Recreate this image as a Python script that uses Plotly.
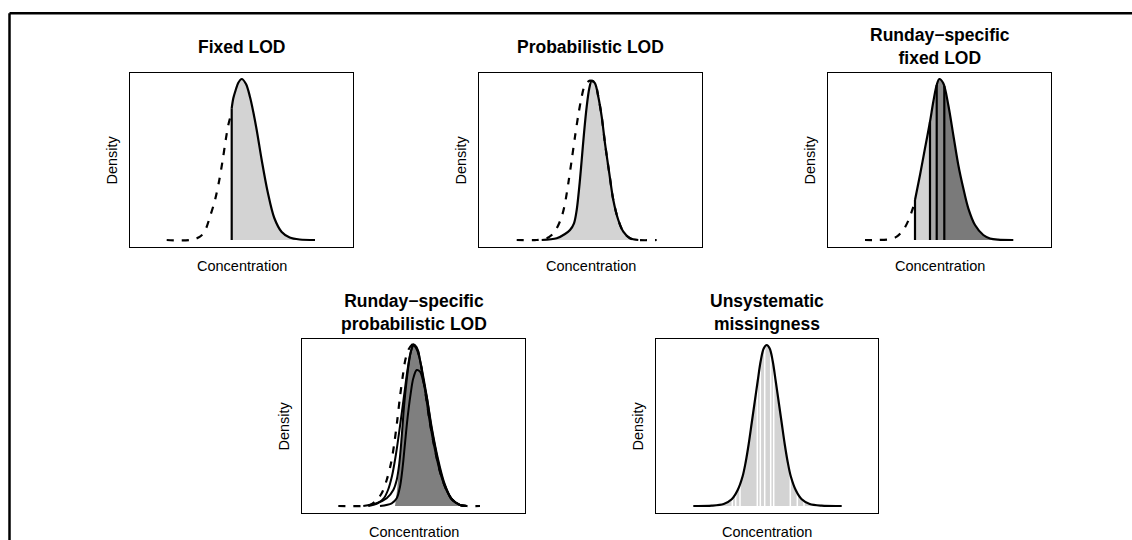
import plotly.graph_objects as go

# ---------------- data (arbitrary concentration / density units) ----------------
titles = ["Fixed LOD", "Probabilistic LOD", "Runday−specific<br>fixed LOD",
          "Runday−specific<br>probabilistic LOD", "Unsystematic<br>missingness"]
x_label = "Concentration"
y_label = "Density"

# Panel 1 : fixed LOD
p1_lod = 101.7
p1_obs_x = [101.7, 103.3, 105.7, 108.3, 111.7, 116, 120, 123.3, 126.7, 131.7, 137.7, 144.3,
            151.7, 159.7, 169.7, 185]
p1_obs_y = [131.7, 141.7, 150, 157.3, 161, 156, 143, 128, 110, 80, 48, 22,
            8, 2.5, 0.5, 0]
p1_cens_x = [36.7, 60, 70, 75, 80, 85, 89.3, 92.7, 95.7, 98.3, 100]
p1_cens_y = [0, 0, 3.3, 9.3, 23.3, 40, 60, 80, 100, 115, 121.7]

# Panel 2 : probabilistic LOD
p2_obs_x = [62.7, 77.7, 86, 91, 95, 97.7, 100.3, 102.7, 105, 107.7, 110.3, 112.7, 116, 119.3,
            122.7, 126, 130.3, 134.3, 139.3, 144.3, 151, 159.3]
p2_obs_y = [0, 1.7, 6, 10, 16.7, 30, 53.3, 80, 106.7, 133.3, 151.7, 159.3, 156.7, 143.3,
            123.3, 96.7, 66.7, 40, 20, 8.3, 1.7, 0]
p2_full_x = [37.7, 57.7, 67.7, 72.7, 77.7, 82.7, 86, 89.3, 92.7, 96, 99.3, 102.7, 106, 111,
             116, 119.3, 122.7, 126, 130.3, 134.3, 139.3, 144.3, 151, 159.3, 177.7]
p2_full_y = [0, 0, 1.7, 5, 11.7, 23.3, 36.7, 56.7, 80, 103.3, 125, 143.3, 155, 159.3,
             156.7, 143.3, 123.3, 96.7, 66.7, 40, 20, 8.3, 1.7, 0, 0]

# Panel 3 : runday-specific fixed LOD
p3_lods = [87, 102, 108.7, 116.3]
p3_lod_heights = [40, 118.3, 155, 154]
p3_obs_x = [87, 92, 97, 102, 105.3, 108.7, 111.3, 115.3, 120.3, 125.3, 130.3, 135.3, 140.3,
            147, 155.3, 162, 170, 185.3]
p3_obs_y = [40, 65, 91.7, 118.3, 138.3, 155, 161, 156.7, 135, 105, 75, 51.7, 31.7,
            15, 5, 1.5, 0.3, 0]
p3_cens_x = [37, 48.7, 62, 68.7, 75.3, 80.3, 83.7, 86]
p3_cens_y = [0, 0, 0.7, 3.3, 10, 19.3, 28.3, 35]
p3_fill_colors = ["#D3D3D3", "#A9A9A9", "#8C8C8C", "#7A7A7A"]

# Panel 4 : runday-specific probabilistic LOD
p4_full_x = [36.3, 60, 68, 74.7, 79.7, 84.7, 89, 92.3, 95.3, 98, 100.7, 103.3, 106.3, 109.7, 111.3,
             114.7, 118, 123, 128, 133, 138, 143, 149.7, 158, 164.7, 178]
p4_full_y = [0, 0, 1, 6, 12.7, 26, 42.7, 62.7, 86, 109.3, 129.3, 146, 156, 161, 161.7,
             158.7, 146, 116, 82.7, 56, 34.3, 19.3, 6.7, 1, 0, 0]
p4_a_x = [61.3, 74.7, 84.7, 91.3, 94.7, 97.3, 99.7, 102, 104.7, 107.3, 109.7, 111.3,
          114.7, 118, 123, 128, 133, 138, 143, 149.7, 158, 164.7]
p4_a_y = [0, 2.7, 7.7, 16, 26, 42.7, 69.3, 99.3, 126, 146, 157.7, 161.7,
          158.7, 146, 116, 82.7, 56, 34.3, 19.3, 6.7, 1, 0]
p4_b_x = [78, 89.7, 94.7, 98, 100.7, 103, 105.7, 108.7, 111.3, 114.7, 118, 121.3, 124.7,
          128.7, 133, 138, 143, 149.7, 158, 164.7]
p4_b_y = [0, 2.7, 7.7, 19.3, 39.3, 62.7, 89.3, 112.7, 127.7, 136, 134.3, 124.3, 109.3,
          82.7, 59.3, 36, 20, 7, 1, 0]
p4_c_x = [66.3, 76, 82, 86, 90, 94, 98, 102, 105.5, 108.5, 111.5, 114, 117, 120, 124.7,
          130, 136, 142, 149, 158, 164.7]
p4_c_y = [0, 3, 8, 16, 30, 52, 80, 110, 136, 153, 160.5, 158, 150, 136, 110,
          77, 47, 24, 8, 1, 0]
p4_fill_start_x = [93, 95.3]
p4_fill_start_y = [0, 18]

# Panel 5 : unsystematic missingness
p5_x = [37.3, 55.7, 67.7, 75.7, 81.7, 86.7, 89.7, 92.7, 95.7, 98.7, 101.7, 104.7, 107.7, 110.7,
        113.7, 116.7, 119.7, 122.7, 125.7, 128.7, 131.7, 134.7, 139.7, 145.7, 153.7, 165.7, 185.7]
p5_y = [0, 0.3, 2, 6.7, 16, 30, 44, 62, 83, 104, 125, 145, 157.5, 161,
        157.5, 145, 125, 104, 83, 62, 44, 30, 16, 6.7, 2, 0.3, 0]
p5_missing_x = [76.3, 79.7, 84, 101.3, 104.3, 108.7, 114.7, 117.7, 134.3, 141.3, 148]

# ---------------- layout helpers ----------------
W, H = 1132, 540
FONT = "Liberation Sans, Arial, sans-serif"
boxes = [(130, 73, 353, 247), (479, 73, 702, 247), (828, 73, 1051, 247),
         (302, 339, 525, 513), (656, 339, 878, 513)]

LW = 2.2
DASH = "7px,8px"

fig = go.Figure()


def ax(i):
    return ("x" if i == 0 else f"x{i+1}"), ("y" if i == 0 else f"y{i+1}")


def line(i, x, y, dash=None, width=LW, color="black", shape="spline"):
    xa, ya = ax(i)
    fig.add_trace(go.Scatter(x=x, y=y, mode="lines", xaxis=xa, yaxis=ya,
                             line=dict(color=color, width=width, dash=dash, shape=shape,
                                       smoothing=0.9),
                             hoverinfo="skip", showlegend=False))


def area(i, x, y, color, shape="spline"):
    xa, ya = ax(i)
    fig.add_trace(go.Scatter(x=x, y=y, mode="lines", xaxis=xa, yaxis=ya, fill="tozeroy",
                             fillcolor=color, line=dict(width=0, color=color, shape=shape,
                                                        smoothing=0.9),
                             hoverinfo="skip", showlegend=False))


# Panel 1
area(0, p1_obs_x, p1_obs_y, "#D3D3D3")
line(0, p1_cens_x, p1_cens_y, dash=DASH)
line(0, [p1_lod, p1_lod], [0, p1_obs_y[0]], shape="linear")
line(0, p1_obs_x, p1_obs_y)

# Panel 2
area(1, p2_obs_x, p2_obs_y, "#D3D3D3")
line(1, p2_full_x, p2_full_y, dash=DASH)
line(1, p2_obs_x, p2_obs_y)

# Panel 3
for k, lod in enumerate(p3_lods):
    xs = [lod] + [xv for xv in p3_obs_x if xv > lod + 0.5]
    ys = [p3_lod_heights[k]] + [yv for xv, yv in zip(p3_obs_x, p3_obs_y) if xv > lod + 0.5]
    area(2, xs, ys, p3_fill_colors[k])
line(2, p3_cens_x, p3_cens_y, dash=DASH)
for lod, h in zip(p3_lods, p3_lod_heights):
    line(2, [lod, lod], [0, h], shape="linear")
line(2, p3_obs_x, p3_obs_y)

# Panel 4
fx = p4_fill_start_x + [xv for xv in p4_a_x if xv > p4_fill_start_x[-1] + 1]
fy = p4_fill_start_y + [yv for xv, yv in zip(p4_a_x, p4_a_y) if xv > p4_fill_start_x[-1] + 1]
area(3, fx, fy, "#7F7F7F")
line(3, p4_full_x, p4_full_y, dash=DASH)
line(3, p4_b_x, p4_b_y, width=2)
line(3, p4_c_x, p4_c_y, width=2)
line(3, p4_a_x, p4_a_y, width=2)

# Panel 5
area(4, p5_x, p5_y, "#D3D3D3")
for mx in p5_missing_x:
    line(4, [mx, mx], [0, max(p5_y)], color="white", width=1.5, shape="linear")
line(4, p5_x, p5_y)

# axes
layout = dict(width=W, height=H, margin=dict(l=0, r=0, t=0, b=0),
              paper_bgcolor="white", plot_bgcolor="white", showlegend=False)
annotations = []
for i, (l, t, r, b) in enumerate(boxes):
    xa, ya = ax(i)
    xkey = "xaxis" if i == 0 else f"xaxis{i+1}"
    ykey = "yaxis" if i == 0 else f"yaxis{i+1}"
    common = dict(showline=True, mirror=True, linecolor="black", linewidth=1,
                  showticklabels=False, ticks="", showgrid=False, zeroline=False,
                  fixedrange=True)
    layout[xkey] = dict(domain=[l / W, r / W], range=[0, r - l], anchor=ya, **common)
    layout[ykey] = dict(domain=[1 - b / H, 1 - t / H], range=[-7, 167], anchor=xa, **common)
    cx = (l + r) / 2 / W
    annotations.append(dict(text=f"<b>{titles[i]}</b>", x=cx, y=1 - (t - 26.5) / H,
                            xref="paper", yref="paper", showarrow=False,
                            xanchor="center", yanchor="middle",
                            font=dict(family=FONT, size=17.5, color="black")))
    annotations.append(dict(text=x_label, x=cx, y=1 - (b + 18.5) / H,
                            xref="paper", yref="paper", showarrow=False,
                            xanchor="center", yanchor="middle",
                            font=dict(family=FONT, size=14.5, color="black")))
    annotations.append(dict(text=y_label, x=(l - 18.5) / W, y=1 - (t + b) / 2 / H,
                            xref="paper", yref="paper", showarrow=False, textangle=-90,
                            xanchor="center", yanchor="middle",
                            font=dict(family=FONT, size=14.5, color="black")))
layout["annotations"] = annotations
layout["shapes"] = [
    dict(type="line", xref="paper", yref="paper", x0=9.5 / W, x1=1.0, y0=1 - 13.2 / H,
         y1=1 - 13.2 / H, line=dict(color="black", width=2.5)),
    dict(type="line", xref="paper", yref="paper", x0=9.5 / W, x1=9.5 / W, y0=1 - 13.2 / H,
         y1=0, line=dict(color="black", width=2.5)),
]
fig.update_layout(**layout)
fig.write_html("out.html")
